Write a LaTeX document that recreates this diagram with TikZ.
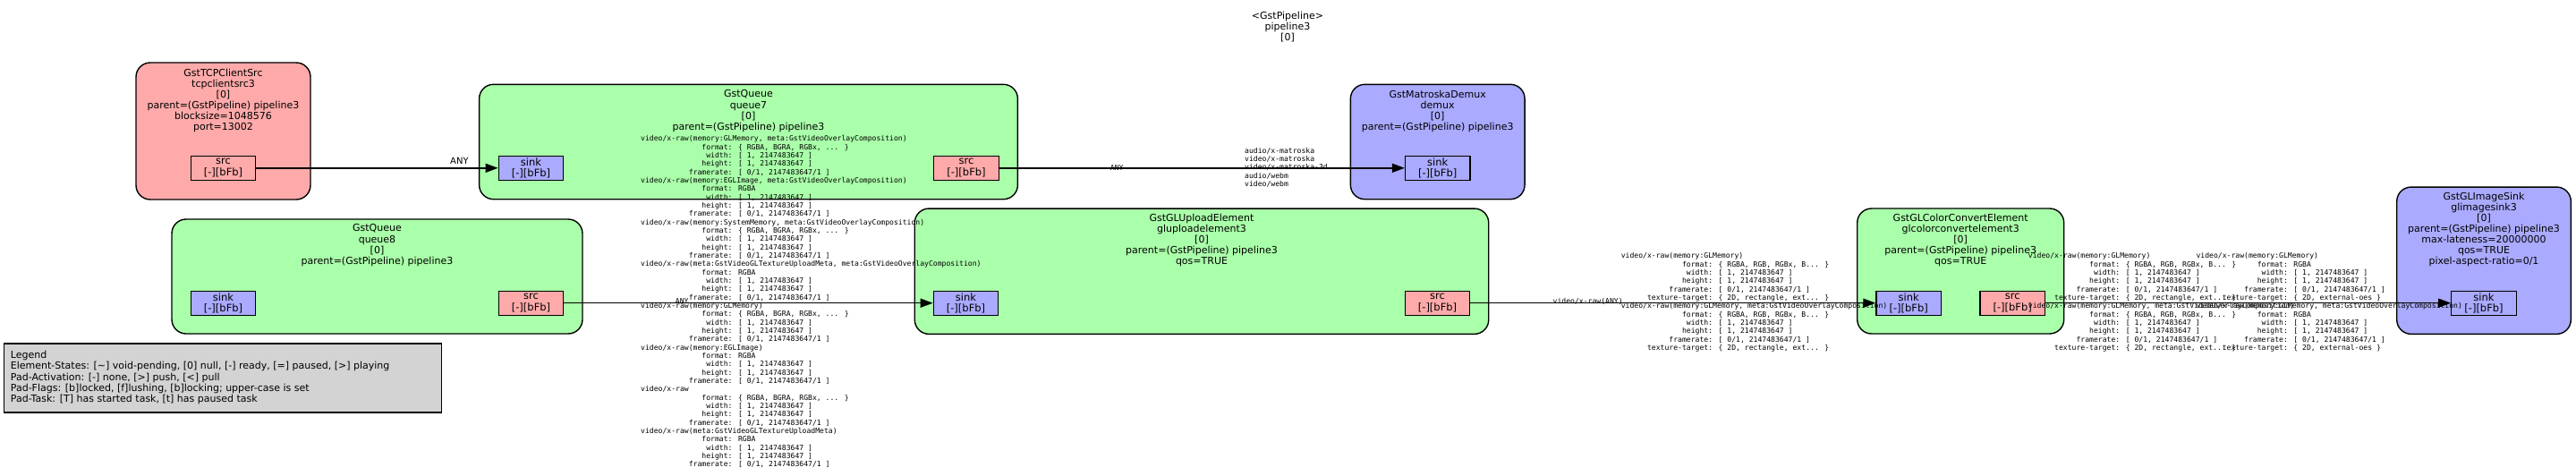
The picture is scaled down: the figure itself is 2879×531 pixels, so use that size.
\documentclass[tikz,border=0pt]{standalone}
\usepackage{fontspec}
\setmainfont{DejaVu Sans}
\newfontfamily\capsfam{DejaVu Sans Mono}
\usepackage{tikz}
\usetikzlibrary{arrows.meta,quotes}

\definecolor{srcred}{HTML}{FFAAAA}
\definecolor{sinkblue}{HTML}{AAAAFF}
\definecolor{elemgreen}{HTML}{AAFFAA}
\definecolor{legendgray}{HTML}{D3D3D3}

\newlength{\capw}
\newcommand{\capfld}[2]{\settowidth{\capw}{0}\makebox[20\capw][r]{#1}: #2}
\newcommand{\capsdims}{\capfld{width}{[ 1, 2147483647 ]}\\\capfld{height}{[ 1, 2147483647 ]}\\\capfld{framerate}{[ 0/1, 2147483647/1 ]}}
\newcommand{\rgbaset}{\{ RGBA, BGRA, RGBx, ... \}}
\newcommand{\rgbset}{\{ RGBA, RGB, RGBx, B... \}}
\newcommand{\rectset}{\{ 2D, rectangle, ext... \}}
\newcommand{\oesset}{\{ 2D, external-oes \}}
\newcommand{\padtxt}[1]{#1\\{}[-][bFb]}

\begin{document}
\begin{tikzpicture}[x=1pt, y=-1pt, ->, >={Triangle[length=14pt, width=10pt]},
  elem/.style={draw, line width=1.4pt, rounded corners=16pt, inner sep=0pt},
  title/.style={anchor=north, align=center, inner sep=0pt, font=\fontsize{11}{12.1}\selectfont},
  pad/.style={draw, line width=1.2pt, minimum width=72.5pt, minimum height=27pt, inner sep=0pt, align=center, font=\fontsize{11.5}{12.6}\selectfont},
  srcpad/.style={pad, fill=srcred},
  sinkpad/.style={pad, fill=sinkblue},
  caps/.style={anchor=north west, align=left, inner sep=0pt, font=\capsfam\fontsize{8.1}{9.33}\selectfont},
  capslbl/.style={inner sep=0pt, font=\capsfam\fontsize{8.1}{9.33}\selectfont},
  every edge/.append style={line width=1.4pt},
  every edge quotes/.append style={font=\fontsize{10}{12}\selectfont}]

\useasboundingbox (0,0) rectangle (2879,531);

\node[title] (pipeline3) at (1439,12.6) {<GstPipeline>\\pipeline3\\{}[0]};

\begin{scope}[shift={(249.5,0)}]
\node[elem, fill=srcred, minimum width=195pt, minimum height=153pt] (tcpclientsrc3) at (0,146.5) {};
\node[title] (tcpclientsrc3-title) at (0,76.6) {GstTCPClientSrc\\tcpclientsrc3\\{}[0]\\parent=(GstPipeline) pipeline3\\blocksize=1048576\\port=13002};
\node[srcpad] (tcpclientsrc3-src) at (0,187.8) {\padtxt{src}};
\end{scope}

\begin{scope}[shift={(836.5,0)}]
\node[elem, fill=elemgreen, minimum width=601.8pt, minimum height=128.4pt] (queue7) at (0,158.5) {};
\node[title] (queue7-title) at (0,100.6) {GstQueue\\queue7\\{}[0]\\parent=(GstPipeline) pipeline3};
\node[sinkpad] (queue7-sink) at (-243,187.8) {\padtxt{sink}};
\node[srcpad] (queue7-src) at (243.5,187.8) {\padtxt{src}};
\end{scope}

\begin{scope}[shift={(1606.7,0)}]
\node[elem, fill=sinkblue, minimum width=194.7pt, minimum height=128.4pt] (demux) at (0,158.5) {};
\node[title] (demux-title) at (0,100.6) {GstMatroskaDemux\\demux\\{}[0]\\parent=(GstPipeline) pipeline3};
\node[sinkpad] (demux-sink) at (0,187.8) {\padtxt{sink}};
\end{scope}

\begin{scope}[shift={(421.5,0)}]
\node[elem, fill=elemgreen, minimum width=459pt, minimum height=128pt] (queue8) at (0,309) {};
\node[title] (queue8-title) at (0,250.6) {GstQueue\\queue8\\{}[0]\\parent=(GstPipeline) pipeline3};
\node[sinkpad] (queue8-sink) at (-172,338.7) {\padtxt{sink}};
\node[srcpad] (queue8-src) at (172,338.7) {\padtxt{src}};
\end{scope}

\begin{scope}[shift={(1343,0)}]
\node[elem, fill=elemgreen, minimum width=641.5pt, minimum height=140.3pt] (gluploadelement3) at (0,303.2) {};
\node[title] (gluploadelement3-title) at (0,238.6) {GstGLUploadElement\\gluploadelement3\\{}[0]\\parent=(GstPipeline) pipeline3\\qos=TRUE};
\node[sinkpad] (gluploadelement3-sink) at (-263.5,338.7) {\padtxt{sink}};
\node[srcpad] (gluploadelement3-src) at (263.5,338.7) {\padtxt{src}};
\end{scope}

\begin{scope}[shift={(2191.2,0)}]
\node[elem, fill=elemgreen, minimum width=231pt, minimum height=140pt] (glcolorconvertelement3) at (0,303) {};
\node[title] (glcolorconvertelement3-title) at (0,238.6) {GstGLColorConvertElement\\glcolorconvertelement3\\{}[0]\\parent=(GstPipeline) pipeline3\\qos=TRUE};
\node[sinkpad] (glcolorconvertelement3-sink) at (-58,338.7) {\padtxt{sink}};
\node[srcpad] (glcolorconvertelement3-src) at (58,338.7) {\padtxt{src}};
\end{scope}

\begin{scope}[shift={(2776,0)}]
\node[elem, fill=sinkblue, minimum width=194.6pt, minimum height=164.3pt] (glimagesink3) at (0,291.2) {};
\node[title] (glimagesink3-title) at (0,214.6) {GstGLImageSink\\glimagesink3\\{}[0]\\parent=(GstPipeline) pipeline3\\max-lateness=20000000\\qos=TRUE\\pixel-aspect-ratio=0/1};
\node[sinkpad] (glimagesink3-sink) at (0,338.7) {\padtxt{sink}};
\end{scope}

% legend
\node[draw, line width=1.2pt, fill=legendgray, minimum width=489pt, minimum height=77pt, inner sep=0pt] (legend) at (248.8,422.5) {};
\node[anchor=west, align=left, inner sep=0pt, font=\fontsize{11}{12.3}\selectfont] (legend-txt) at (11.7,422.1) {Legend\\Element-States: [\textasciitilde] void-pending, [0] null, [-] ready, [=] paused, [>] playing\\Pad-Activation: [-] none, [>] push, [<] pull\\Pad-Flags: [b]locked, [f]lushing, [b]locking; upper-case is set\\Pad-Task: [T] has started task, [t] has paused task};

\path
 (tcpclientsrc3-src) edge["ANY", pos=0.84] (queue7-sink)
 (queue7-src) edge node[capslbl, pos=0.29] (queue7-any) {ANY} (demux-sink)
 (queue8-src) edge node[capslbl, pos=0.32, yshift=2pt] (queue8-any) {ANY} (gluploadelement3-sink)
 (gluploadelement3-src) edge node[capslbl, pos=0.29, yshift=1.5pt] (glupload-any) {video/x-raw(ANY)} (glcolorconvertelement3-sink)
 (glcolorconvertelement3-src) edge (glimagesink3-sink);

% caps
\node[caps] (demux-caps) at (1391,164.8) {audio/x-matroska\\video/x-matroska\\video/x-matroska-3d\\audio/webm\\video/webm};

\node[caps] (gluploadelement3-caps) at (716,151.5) {video/x-raw(memory:GLMemory, meta:GstVideoOverlayComposition)\\\capfld{format}{\rgbaset}\\\capsdims\\
video/x-raw(memory:EGLImage, meta:GstVideoOverlayComposition)\\\capfld{format}{RGBA}\\\capsdims\\
video/x-raw(memory:SystemMemory, meta:GstVideoOverlayComposition)\\\capfld{format}{\rgbaset}\\\capsdims\\
video/x-raw(meta:GstVideoGLTextureUploadMeta, meta:GstVideoOverlayComposition)\\\capfld{format}{RGBA}\\\capsdims\\
video/x-raw(memory:GLMemory)\\\capfld{format}{\rgbaset}\\\capsdims\\
video/x-raw(memory:EGLImage)\\\capfld{format}{RGBA}\\\capsdims\\
video/x-raw\\\capfld{format}{\rgbaset}\\\capsdims\\
video/x-raw(meta:GstVideoGLTextureUploadMeta)\\\capfld{format}{RGBA}\\\capsdims};

\node[caps] (glcolorconvertelement3-sinkcaps) at (1811.6,282.5) {video/x-raw(memory:GLMemory)\\\capfld{format}{\rgbset}\\\capsdims\\\capfld{texture-target}{\rectset}\\
video/x-raw(memory:GLMemory, meta:GstVideoOverlayComposition)\\\capfld{format}{\rgbset}\\\capsdims\\\capfld{texture-target}{\rectset}};

\node[caps] (glcolorconvertelement3-srccaps) at (2266.7,282.5) {video/x-raw(memory:GLMemory)\\\capfld{format}{\rgbset}\\\capsdims\\\capfld{texture-target}{\rectset}\\
video/x-raw(memory:GLMemory, meta:GstVideoOverlayComposition)\\\capfld{format}{\rgbset}\\\capsdims\\\capfld{texture-target}{\rectset}};

\node[caps] (glimagesink3-caps) at (2454.3,282.5) {video/x-raw(memory:GLMemory)\\\capfld{format}{RGBA}\\\capsdims\\\capfld{texture-target}{\oesset}\\
video/x-raw(memory:GLMemory, meta:GstVideoOverlayComposition)\\\capfld{format}{RGBA}\\\capsdims\\\capfld{texture-target}{\oesset}};
\end{tikzpicture}
\end{document}
